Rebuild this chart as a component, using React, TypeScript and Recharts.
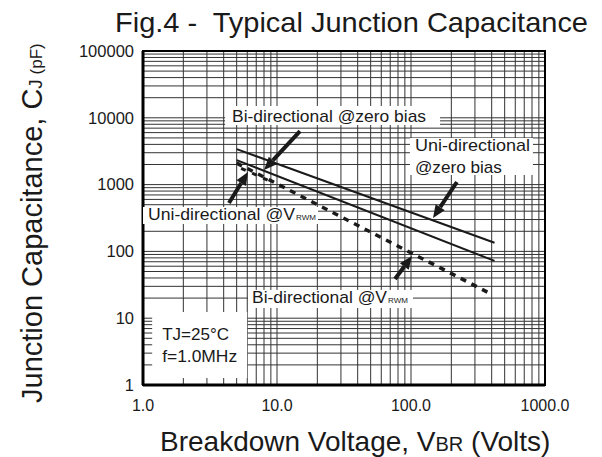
import {
  LineChart,
  Line,
  XAxis,
  YAxis,
  CartesianGrid,
  ReferenceLine,
  ReferenceDot,
  ReferenceArea,
} from "recharts";

// decades on each axis (log-log grid)
const voltDecades = [1, 10, 100, 1000];
const capDecades = [1, 10, 100, 1000, 10000, 100000];
const minorSteps = [2, 3, 4, 5, 6, 7, 8, 9];
const voltTickLabels = ["1.0", "10.0", "100.0", "1000.0"];
const capTickLabels = ["1", "10", "100", "1000", "10000", "100000"];

// curves (v = breakdown voltage, c = capacitance pF)
const uniZeroBias = [
  { v: 5.0, c: 3400 },
  { v: 420, c: 135 },
];
const biZeroBias = [
  { v: 5.0, c: 2330 },
  { v: 420, c: 72 },
];
const uniVrwm = [
  { v: 5.0, c: 2100 },
  { v: 380, c: 24 },
];
// second dashed trace only separates near the low-voltage end
const biVrwm = [
  { v: 5.4, c: 1750 },
  { v: 9.5, c: 1060 },
];

// callout texts and where they sit / point to (data coords)
const noteTexts = [
  ["Bi-directional @zero bias"],
  ["Uni-directional", "@zero bias"],
  ["Uni-directional @V"],
  ["Bi-directional @V"],
  ["TJ=25°C", "f=1.0MHz"],
];
const noteSubs = ["", "", "RWM", "RWM", ""];
const noteAnchors = [
  { v: 4.62, c: 10640 },
  { v: 107, c: 3785 },
  { v: 1.09, c: 351 },
  { v: 6.51, c: 20.1 },
  { v: 1.39, c: 5.8 },
];
const arrows = [
  [{ x: 14.85, y: 6340 }, { x: 8.0, y: 1655 }],
  [{ x: 220, y: 1094 }, { x: 146, y: 316 }],
  [{ x: 4.38, y: 531 }, { x: 6.08, y: 1545 }],
  [{ x: 76, y: 38.6 }, { x: 101.7, y: 85.3 }],
];

const withMinors = (decades: number[]) =>
  decades.flatMap((d, i) => (i < decades.length - 1 ? [d, ...minorSteps.map((s) => s * d)] : [d]));

const voltTicks = withMinors(voltDecades);
const capTicks = withMinors(capDecades);

const FONT = "'Liberation Sans', Arial, Helvetica, sans-serif";
const INK = "#1a1a1a";

// box geometry per callout: [dx, dy, w, h] and text widths
const noteBoxes = [
  [-7, -10, 215, 19],
  [-5, -8, 123, 37],
  [-5, -8, 175, 17],
  [-4, -8, 165, 18],
  [-10, -22, 95, 66],
];
const noteWidths = [[194], [115, 87], [147], [135], [67, 75]];

const Note = ({ cx, cy, idx }: { cx?: number; cy?: number; idx: number }) => {
  if (cx == null || cy == null) return null;
  const [dx, dy, w, h] = noteBoxes[idx];
  const lines = noteTexts[idx];
  const widths = noteWidths[idx];
  return (
    <g>
      <rect x={cx + dx} y={cy + dy} width={w} height={h} fill="#fff" />
      {lines.map((t, i) => (
        <text
          key={i}
          x={cx}
          y={cy + i * 22}
          dominantBaseline="central"
          fontFamily={FONT}
          fontSize={17}
          fill={INK}
          textLength={widths[i]}
          lengthAdjust="spacingAndGlyphs"
        >
          {t}
        </text>
      ))}
      {noteSubs[idx] && (
        <text x={cx + widths[0] + 1} y={cy + 5} fontFamily={FONT} fontSize={8} fill={INK}>
          {noteSubs[idx]}
        </text>
      )}
    </g>
  );
};

const Arrow = (p: any) => {
  const { x1, y1, x2, y2 } = p;
  const a = Math.atan2(y2 - y1, x2 - x1);
  const len = 13;
  const half = 5.5;
  const bx = x2 - len * Math.cos(a);
  const by = y2 - len * Math.sin(a);
  const pts = `${x2},${y2} ${bx + half * Math.sin(a)},${by - half * Math.cos(a)} ${bx - half * Math.sin(a)},${by + half * Math.cos(a)}`;
  return (
    <g>
      <line x1={x1} y1={y1} x2={bx} y2={by} stroke={INK} strokeWidth={4} />
      <polygon points={pts} fill={INK} />
    </g>
  );
};

const voltLabel = (v: number) => {
  const i = voltDecades.indexOf(v);
  return i >= 0 ? voltTickLabels[i] : "";
};
const capLabel = (c: number) => {
  const i = capDecades.indexOf(c);
  return i >= 0 ? capTickLabels[i] : "";
};

export default function App() {
  return (
    <div style={{ position: "absolute", left: 0, top: 0, background: "#fff" }}>
      <LineChart width={602} height={457} margin={{ top: 51, right: 57, bottom: 0, left: 0 }}>
        <CartesianGrid stroke="#333" strokeWidth={1} />
        <XAxis
          dataKey="v"
          type="number"
          scale="log"
          domain={[1, 1000]}
          ticks={voltTicks}
          tickFormatter={voltLabel}
          interval={0}
          allowDataOverflow
          height={72}
          tickLine={false}
          tickSize={6}
          tickMargin={9}
          axisLine={{ stroke: "#000", strokeWidth: 3 }}
          tick={{ fill: INK, fontSize: 16, fontFamily: FONT }}
        />
        <YAxis
          dataKey="c"
          type="number"
          scale="log"
          domain={[1, 100000]}
          ticks={capTicks}
          tickFormatter={capLabel}
          interval={0}
          allowDataOverflow
          width={143}
          tickLine={false}
          tickSize={6}
          tickMargin={3}
          axisLine={{ stroke: "#000", strokeWidth: 3 }}
          tick={{ fill: INK, fontSize: 16.5, fontFamily: FONT }}
        />
        <ReferenceArea x1={1} x2={1000} y1={1} y2={100000} fill="none" stroke="#000" strokeWidth={2} />
        {noteAnchors.map((n, i) => (
          <ReferenceDot key={`n${i}`} x={n.v} y={n.c} r={0} shape={(p: any) => <Note cx={p.cx} cy={p.cy} idx={i} />} />
        ))}
        <Line data={uniZeroBias} dataKey="c" stroke={INK} strokeWidth={2} dot={false} isAnimationActive={false} />
        <Line data={biZeroBias} dataKey="c" stroke={INK} strokeWidth={2} dot={false} isAnimationActive={false} />
        <Line
          data={uniVrwm}
          dataKey="c"
          stroke={INK}
          strokeWidth={3.5}
          strokeDasharray="6 6"
          dot={false}
          isAnimationActive={false}
        />
        <Line
          data={biVrwm}
          dataKey="c"
          stroke={INK}
          strokeWidth={3}
          strokeDasharray="5 7"
          dot={false}
          isAnimationActive={false}
        />
        {arrows.map((seg, i) => (
          <ReferenceLine key={`a${i}`} segment={seg} shape={Arrow} />
        ))}
        <text
          x={115}
          y={32}
          fontFamily={FONT}
          fontSize={28}
          fill={INK}
          textLength={473}
          lengthAdjust="spacingAndGlyphs"
          style={{ whiteSpace: "pre" }}
        >
          {"Fig.4 -  Typical Junction Capacitance"}
        </text>
        <text x={160} y={451} fontFamily={FONT} fontSize={28} fill={INK}>
          Breakdown Voltage, V<tspan fontSize={20}>BR</tspan>
          <tspan> (Volts)</tspan>
        </text>
        <text
          transform="translate(42, 403) rotate(-90)"
          x={0}
          y={0}
          fontFamily={FONT}
          fontSize={29}
          fill={INK}
        >
          Junction Capacitance, C<tspan fontSize={19}>J</tspan>
          <tspan fontSize={17}> (pF)</tspan>
        </text>
      </LineChart>
    </div>
  );
}
